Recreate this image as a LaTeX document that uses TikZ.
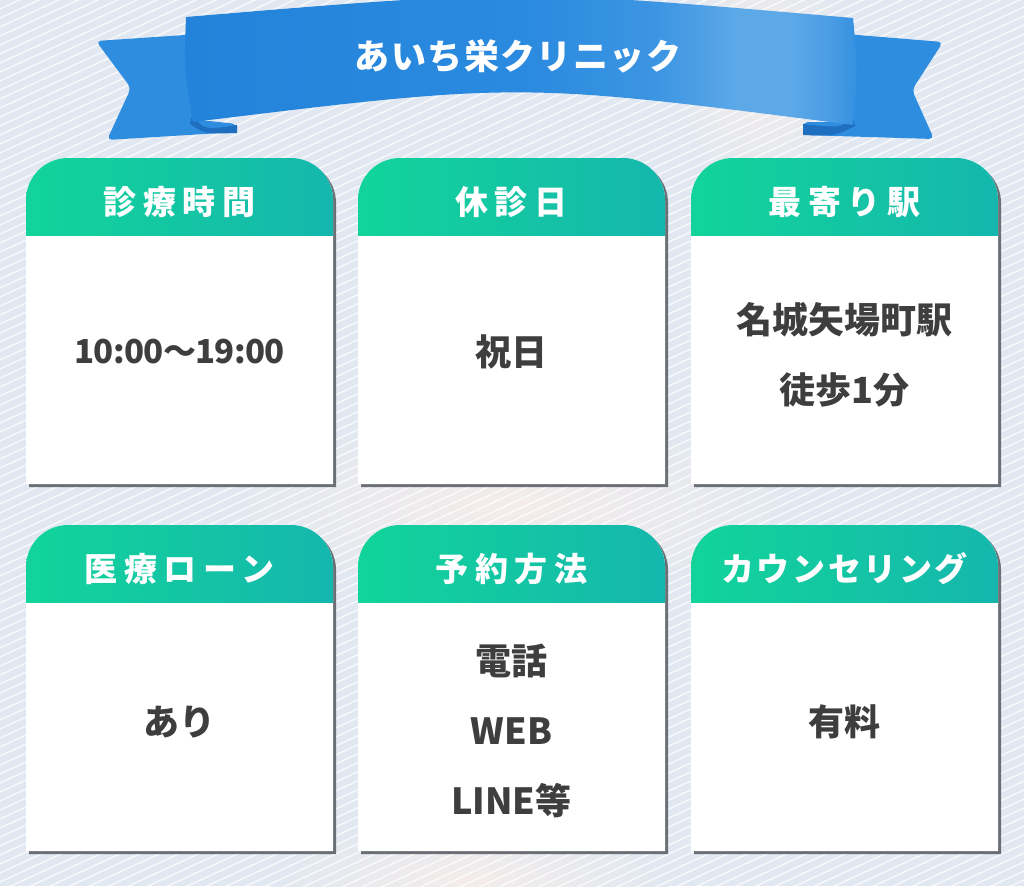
\documentclass[tikz,border=0pt]{standalone}
\usepackage{fontspec}
\newfontfamily\jp{Noto Sans CJK JP}
\usetikzlibrary{fadings}
\definecolor{bgc}{HTML}{E1E8F1}
\definecolor{hdl}{HTML}{12D49A}
\definecolor{hdr}{HTML}{15B7AD}
\definecolor{bodytxt}{HTML}{3E3E3E}
\definecolor{ribA}{HTML}{2383DA}
\definecolor{ribB}{HTML}{2A8ADF}
\definecolor{ribC}{HTML}{3C95E2}
\definecolor{ribD}{HTML}{5DA8E7}
\definecolor{ribF}{HTML}{4A9CE4}
\definecolor{ribE}{HTML}{3390E0}
\definecolor{ribtailc}{HTML}{2F8DE0}
\definecolor{ribfold}{HTML}{1F6FC0}
\definecolor{peach}{HTML}{F4ECEA}
\definecolor{shadowc}{HTML}{555A60}
\pgfdeclarehorizontalshading{ribbonsh}{100bp}{color(0bp)=(ribA); color(25bp)=(ribA); color(50bp)=(ribB); color(60bp)=(ribC); color(66bp)=(ribD); color(70bp)=(ribD); color(73bp)=(ribF); color(75bp)=(ribE); color(100bp)=(ribE)}
\tikzset{
  headtxt/.style={text=white, font=\jp\bfseries\fontsize{33}{40}\selectfont, inner sep=0pt},
  bodytext/.style={text=bodytxt, font=\jp\bfseries\fontsize{36}{70}\selectfont, align=center, inner sep=0pt},
  titletxt/.style={text=white, font=\jp\bfseries\fontsize{35}{40}\selectfont, inner sep=0pt},
  stripe/.style={white, line width=1.4pt, opacity=0.75},
  cardshadow/.style={fill=shadowc, opacity=0.85},
}
% #1 id, #2 X, #3 Y, #4 header, #5 letterspace, #6 body, #7 body y
\newcommand\infocard[7]{%
  \begin{scope}[shift={(#2,#3)}]
    \fill[cardshadow] (3,329) [rounded corners=42pt] -- (3,3) -- (310,3) [sharp corners] -- (310,329) -- cycle;
    \fill[white] (0,326) [rounded corners=42pt] -- (0,0) -- (307,0) [sharp corners] -- (307,326) -- cycle;
    \begin{scope}
      \clip (0,326) [rounded corners=42pt] -- (0,0) -- (307,0) [sharp corners] -- (307,326) -- cycle;
      \shade[left color=hdl, right color=hdr] (0,0) rectangle (307,77);
    \end{scope}
    \node[headtxt] (h#1) at (153.5,44) {\addfontfeature{LetterSpace=#5}#4};
    \node[bodytext] (b#1) at (153.5,#7) {#6};
  \end{scope}}
\begin{document}
\begin{tikzpicture}[x=1pt,y=-1pt]
\useasboundingbox (0,0) rectangle (1024,886);
% background
\fill[bgc] (0,0) rectangle (1024,886);
\shade[inner color=peach, outer color=bgc] (510,505) ellipse [x radius=300, y radius=90];
\shade[inner color=peach, outer color=bgc] (760,70) ellipse [x radius=90, y radius=130];
\shade[inner color=peach, outer color=bgc] (470,880) ellipse [x radius=200, y radius=60];
\begin{scope}
  \clip (0,0) rectangle (1024,886);
  \foreach \i in {0,...,165} {\draw[stripe] (0,\i*9) -- (1024,\i*9-470);}
\end{scope}
% ribbon tails
\fill[ribtailc, rounded corners=5pt] (96,41) -- (200,34) -- (200,120) -- (237,124) -- (237,132) -- (107,140) -- (131,88) -- cycle;
\fill[ribtailc, rounded corners=5pt] (845,34) -- (943,42) -- (912,90) -- (934,139) -- (803,135) -- (803,122) -- (845,122) -- cycle;
\fill[ribfold] (192,116) .. controls (205,130) .. (237,125) -- (237,133) .. controls (205,134) .. (190,124) -- cycle;
\fill[ribfold] (853,118) .. controls (840,128) .. (803,124) -- (803,135) .. controls (835,136) .. (855,126) -- cycle;
% ribbon band
\shade[shading=ribbonsh] (186,17) .. controls (520,-11) .. (853,18) .. controls (858,70) .. (853,125) .. controls (520,82) .. (193,122) .. controls (184,70) .. (186,17) -- cycle;
\node[titletxt] (title) at (518,56) {\addfontfeature{LetterSpace=4}あいち栄クリニック};
% cards
\infocard{1}{26}{158}{診療時間}{20}{\fontsize{33}{40}\selectfont\addfontfeature{LetterSpace=-2}10:00〜19:00}{194}
\infocard{2}{358}{158}{休診日}{20}{祝日}{194}
\infocard{3}{691}{158}{最寄り駅}{20}{名城矢場町駅\\徒歩1分}{197}
\infocard{4}{26}{525}{医療ローン}{20}{あり}{197}
\infocard{5}{358}{525}{予約方法}{20}{電話\\WEB\\LINE等}{206}
\infocard{6}{691}{525}{カウンセリング}{8}{有料}{197}
\end{tikzpicture}
\end{document}
